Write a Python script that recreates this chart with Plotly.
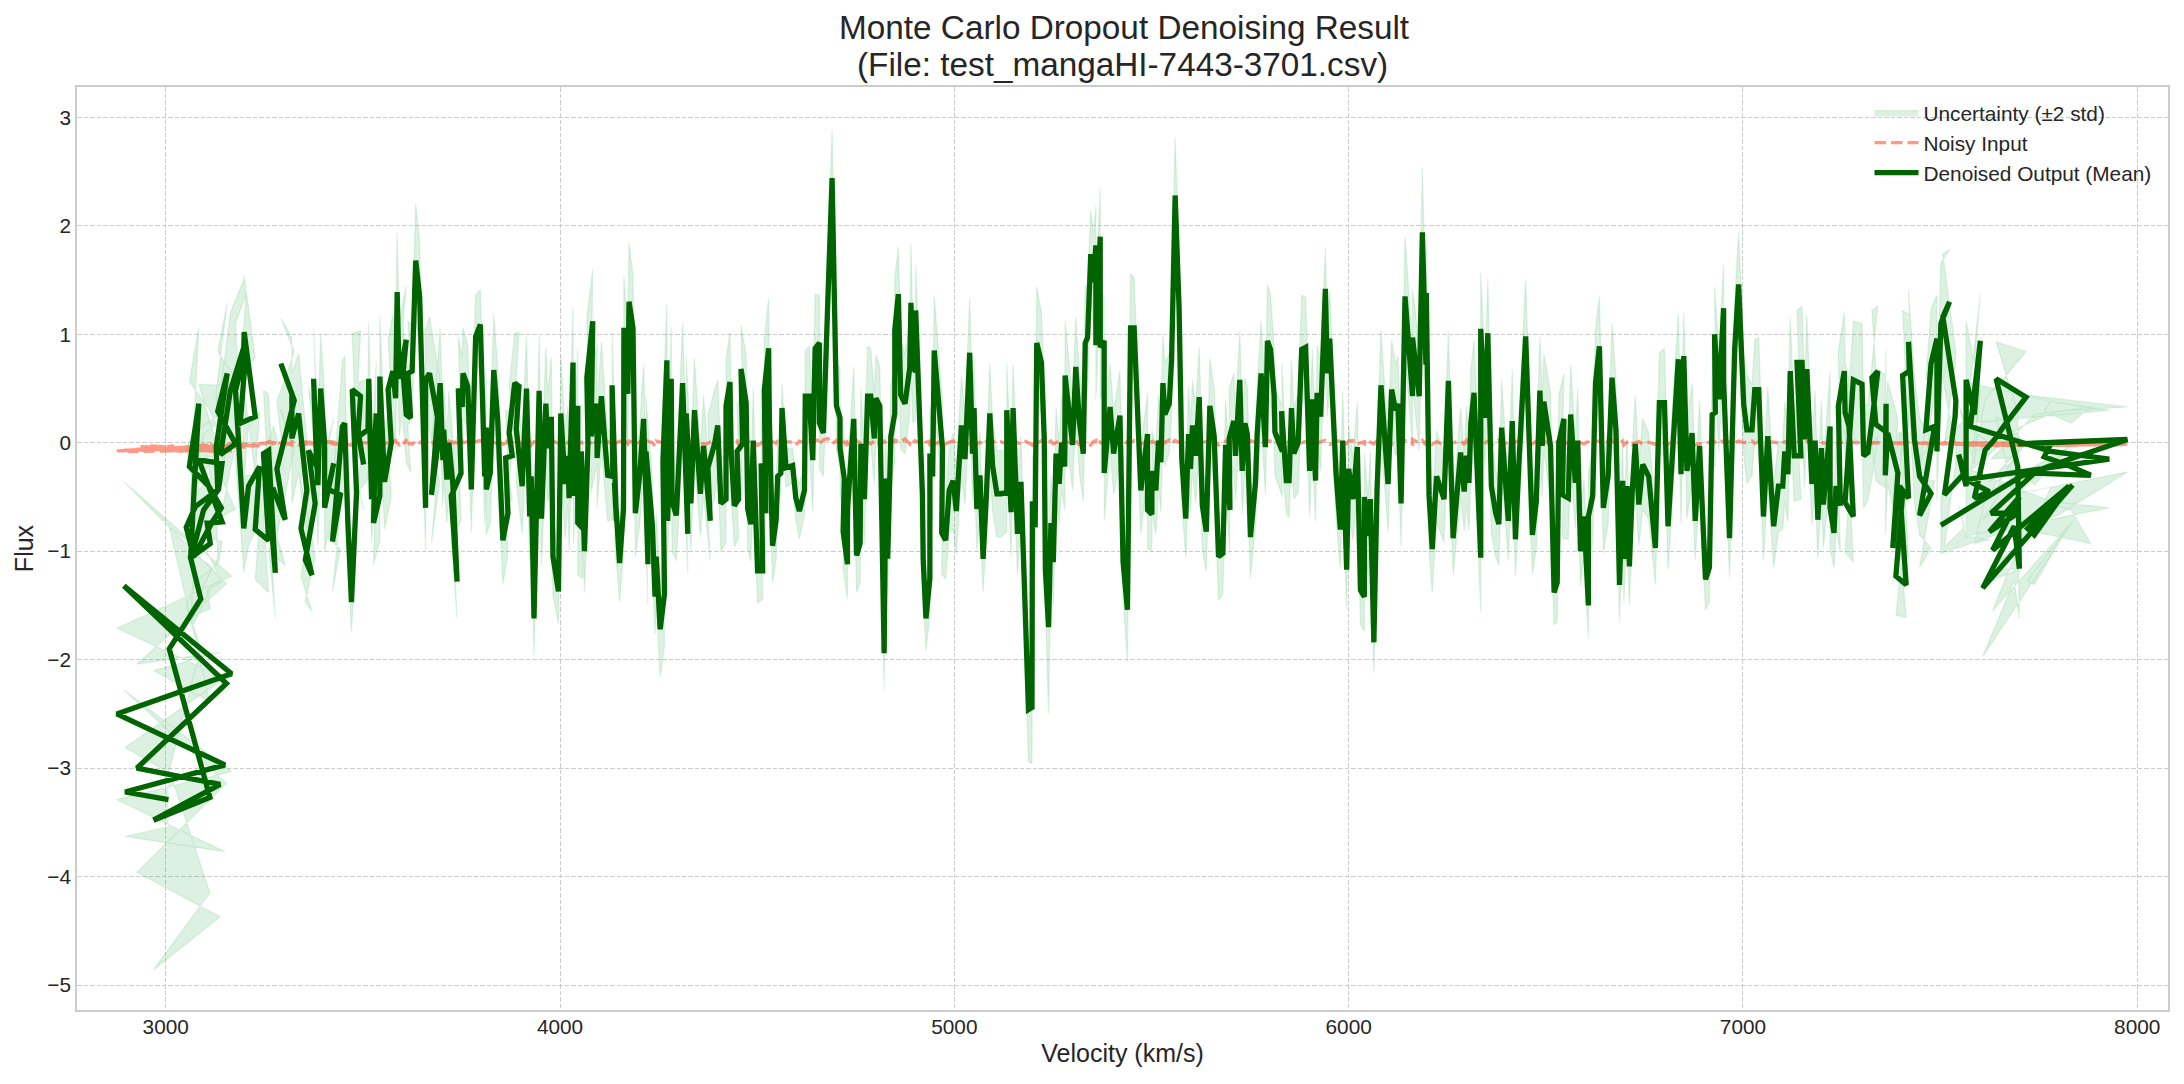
import plotly.graph_objects as go

TITLE_LINE_1 = "Monte Carlo Dropout Denoising Result"
TITLE_LINE_2 = "(File: test_mangaHI-7443-3701.csv)"
X_TICKS = [3000, 4000, 5000, 6000, 7000, 8000]
Y_TICKS = [-5, -4, -3, -2, -1, 0, 1, 2, 3]

# Low-velocity end of the spectrum
velocity_a = [3007,2897,3150,2876,3167,2894,3154,2927,3138,2969,3112,3009,3089,3063]
mean_a = [-3.29,-3.22,-2.97,-2.50,-2.13,-1.32,-2.22,-3.00,-3.15,-3.48,-3.27,-1.90,-1.44,-1.06]
band_a = [.25,.41,.80,.79,.90,.96,.92,.96,1.22,1.38,.88,1.12,.45,.55]
noisy_a = [-.05,-.07,-.04,-.075,-.04,-.07,-.04,-.06,-.04,-.055,-.045,-.05,-.04,-.05]

velocity_b = [3113,3105,3143,3084,3143,3134,3075,3052,3071,3118,
3141,3109,3060,3084,3071,3063,3096,3132,3128,3156,
3132,3177,3139,3164,3198,3199,3227,3189,3204,3177,
3198,3210,3238,3227,3261,3248,3261,3278,3261,3274,
3303,3282,3326,3292,3320,3320,3337,3358,3343,3371,
3354,3379,3362,3383,3375,3386]
mean_b = [-.93,-.74,-.73,-.16,-.19,-.43,-.59,-.78,-1.05,-.73,
-.60,-.40,-.22,.36,-.50,-1.08,-.62,-.44,-.04,.64,
.29,-.01,-.11,.48,.88,1.02,.24,.18,.87,.48,
-.79,-.40,-.22,-.80,-.90,-.10,-.07,-1.20,-.47,-.44,
-.71,-.24,.39,.73,.45,.04,.27,-.44,-.79,-1.22,
-1.08,-.56,-.07,-.22,.59,-.39]
band_b = [.60,.62,.55,.70,.72,.68,.70,.74,.62,.58,
.66,.72,.78,.70,.64,.60,.70,.62,.52,.65,
.55,.60,.58,.72,.62,.52,.54,.48,.50,.62,
.40,.55,.50,.46,.48,.58,.52,.42,.50,.60,
.42,.62,.45,.42,.52,.60,.55,.46,.44,.34,
.38,.50,.58,.44,.46,.55]
noisy_b = [-.06,-.02,-.03,-.07,-.02,-.06,-.045,-.07,-.02,-.06,
-.03,-.07,-.05,-.02,-.07,-.05,-.02,-.06,-.03,-.05,
-.02,-.04,-.05,-.01,-.04,-.015,-.03,-.02,-.01,-.04,
-.02,-.01,-.03,-.01,0,-.02,.01,-.02,.01,0,
-.02,.005,-.02,.01,-.02,.01,-.02,.01,-.025,.0,
.01,-.02,.01,-.015,.01,-.015]

velocity_c = [3393,3403,3403,3426,3412,3443,3423,3448,3454,3462,
3471,3484,3473,3494,3488,3502,3490,3513,3515,3522,
3534,3527,3543,3543,3555,3572,3564,3576,3583,3587,
3592,3610,3602,3610,3621,3614,3625,3634,3644,3659,
3659,3669,3695,3674,3696,3703,3705,3713,3718,3728,
3739,3724,3749,3742,3752,3754,3766,3775,3786,3798,
3809,3813,3813,3823,3832,3842]
mean_c = [.50,0,-.60,-.19,-.43,-.48,-.91,.15,.18,-.74,
-1.47,-.46,.49,.43,.09,-.20,.06,.12,.59,-.52,
.27,-.74,-.49,.61,-.36,0,.49,.66,.41,1.39,
.59,.95,.64,.26,.23,.64,.66,1.68,1.35,-.60,
.58,.64,.12,-.48,.55,-.16,.12,-.34,0,-.37,
-1.28,-.49,-.28,.50,.33,.64,.52,-.43,.98,1.09,
-.31,.14,-.43,-.28,.67,.21]
band_c = [.50,.45,.40,.42,.45,.50,.46,.60,.62,.35,
.28,.44,.52,.60,.48,.42,.50,.46,.52,.40,
.48,.38,.42,.55,.44,.50,.46,.52,.48,.55,
.52,.50,.46,.44,.50,.48,.42,.52,.50,.40,
.46,.52,.48,.44,.50,.42,.46,.40,.48,.42,
.34,.40,.44,.48,.46,.42,.38,.40,.38,.32,
.44,.50,.42,.46,.52,.48]
noisy_c = [.005,-.01,.01,.005,-.01,-.015,0,-.02,0,-.01,
-.025,-.01,0,.005,-.01,.005,-.005,0,-.005,.005,
0,-.01,.005,-.01,-.005,0,.01,.005,.02,0,
-.02,.01,-.01,.02,-.02,0,-.015,.02,0,.03,
.01,-.01,.005,0,.015,-.01,.01,-.005,.015,0,
-.005,.01,-.01,.005,.015,0,.01,-.005,.01,.02,
0,-.01,.01,0,.005,-.01]

velocity_d = [3847,3855,3868,3862,3879,3871,3885,3896,3889,3904,
3915,3923,3927,3934,3947,3953,3964,3969,3978,3982,
3996,4002,4013,4020,4023,4033,4034,4045,4045,4058,
4054,4062,4071,4068,4083,4079,4094,4094,4105,4115,
4121,4134,4132,4143,4138,4151,4161,4162,4172,4175,
4185,4191,4202,4212,4223,4218,4234,4241,4244,4254,
4265,4261,4271,4273,4282,4284,4295,4311,4324,4320,
4332,4341,4356,4364,4381,4375,4392,4400,4408,4421,
4421,4431,4434,4442,4453,4449,4463,4459,4472,4476,
4484,4490,4501,4514,4510,4522,4518,4529,4531,4539,
4548,4552,4560,4563,4573,4590,4598,4607,4620,4622,
4632,4641,4647,4658,4658,4668,4679,4690,4701,4710,
4710,4721,4718,4729,4729,4745,4752,4761,4763,4772,
4780,4788,4797,4801,4811,4822,4826,4831,4839,4849,
4849,4858,4864,4875,4887,4890,4894,4902,4902,4919,
4921,4928,4938,4938,4945,4949,4970,4968,4978,4987,
4997,5005,5018,5027,5039,5046,5050,5057,5065,5073,
5081,5090,5097,5108]
mean_d = [-.23,-.90,-.65,-.14,-.12,.09,.55,.52,.13,-.40,
.50,-.68,-.31,-1.62,.48,-.70,.36,-.05,.24,-1.05,
-1.37,.27,-.38,-.12,-.51,.74,-.49,.34,-.74,-.79,
-.08,-1.00,-.01,.60,1.12,.06,.36,-.14,.43,-.05,
-.30,-.31,.53,-.72,-.37,-1.11,-.61,1.06,.45,1.30,
1.06,-.65,-.30,.22,-1.12,-.08,-.75,-1.42,-1.05,-1.72,
-1.39,-.17,.76,-.72,.59,-.54,-.67,.55,-.84,.27,
-.56,.30,-.47,-.03,-.72,-.23,-.01,.16,-.56,-.52,
.34,.56,-.08,-.58,-.52,-.08,-.01,.68,.37,-.61,
-.75,.02,-1.18,-1.18,-.19,-.65,.48,.87,.20,-.95,
-.72,-.31,-.28,.32,-.23,-.21,-.51,-.63,-.44,.43,
.43,-.16,.87,.92,.18,.09,1.29,2.44,.34,.23,
-.05,-.33,-.82,-1.12,-.61,.22,-1.04,-.93,-.01,-.52,
.43,.43,.04,.41,.34,-1.94,-.33,-1.07,.06,.27,
1.04,1.37,.44,.36,.69,1.29,.69,.66,1.22,-.47,
-1.07,-1.62,-1.25,-.10,-.31,.85,-.05,-.83,-.90,-.44,
-.35,-.63,.16,-.15,.83,-.10,.32,-.61,-.30,-1.07,
-.51,.27,-.21,-.47]
band_d = [.42,.40,.38,.44,.40,.44,.46,.50,.48,.44,
.48,.42,.40,.35,.50,.44,.52,.50,.55,.36,
.30,.55,.50,.46,.48,.50,.44,.52,.48,.46,
.44,.38,.50,.55,.48,.52,.55,.46,.50,.44,
.42,.40,.48,.44,.46,.36,.42,.48,.50,.55,
.48,.40,.46,.50,.38,.50,.42,.35,.40,.44,
.48,.50,.52,.40,.48,.46,.42,.55,.36,.52,
.44,.48,.40,.46,.36,.48,.50,.42,.44,.40,
.42,.46,.44,.38,.36,.44,.46,.40,.44,.38,
.34,.48,.30,.26,.46,.40,.48,.46,.50,.34,
.36,.30,.18,.22,.18,.16,.20,.26,.22,.42,
.46,.48,.50,.44,.42,.40,.50,.44,.40,.46,
.42,.38,.34,.32,.38,.48,.34,.36,.50,.42,
.46,.44,.42,.40,.36,.35,.40,.34,.48,.44,
.48,.44,.50,.46,.42,.55,.50,.46,.42,.40,
.32,.30,.34,.44,.42,.50,.44,.38,.36,.40,
.44,.40,.46,.42,.50,.44,.46,.38,.40,.30,
.38,.46,.42,.40]
noisy_d = [.01,-.015,.005,.02,-.01,.015,-.005,.01,.02,-.01,
0,.015,-.02,.01,.005,-.015,.02,-.01,0,.015,
-.005,.01,-.02,.005,.015,-.01,.02,0,-.015,.01,
-.01,.02,.005,-.02,.01,.015,-.005,.02,0,-.015,
.01,-.01,.02,.005,-.015,.015,0,.02,-.01,.015,
.005,-.02,.01,.025,-.01,.02,0,-.03,.015,.005,
-.01,.02,0,.015,-.02,.01,.005,.025,-.015,0,
.02,-.01,.015,-.02,.005,.01,-.015,.02,0,-.01,
.015,.005,-.02,.01,.02,-.01,0,.025,-.015,.01,
.02,0,-.025,.01,-.03,.015,.005,.02,-.02,.01,
-.005,.015,.02,-.01,.01,.005,-.02,.015,0,-.01,
.02,0,.015,.03,-.005,.025,.04,-.01,.02,-.015,
-.02,0,.015,-.025,.01,-.01,.02,0,-.015,.02,
.01,-.01,.02,.005,-.02,.015,0,-.015,.02,.01,
.03,.005,.01,.035,-.01,.02,.03,0,.015,-.01,
-.02,.005,.015,-.03,.01,-.015,.02,0,-.01,.005,
.015,-.01,.02,0,-.015,.01,.02,-.01,.005,-.02,
.01,-.005,.015,0]

velocity_e = [5118,5133,5133,5144,5149,5155,5160,5169,5177,5188,
5197,5198,5205,5209,5221,5228,5231,5239,5245,5251,
5258,5266,5272,5280,5281,5300,5308,5317,5327,5332,
5338,5346,5353,5359,5359,5370,5370,5380,5380,5395,
5404,5420,5428,5439,5447,5456,5473,5490,5490,5501,
5501,5511,5518,5524,5529,5534,5545,5551,5560,5570,
5577,5587,5594,5599,5604,5612,5621,5629,5639,5648,
5659,5670,5681,5688,5699,5697,5709,5713,5724,5730,
5737,5743,5751,5764,5768,5778,5789,5794,5802,5811,
5813,5832,5830,5842,5849,5855,5861,5872,5881,5891,
5901,5908,5916,5920,5929,5941,5946,5952,5968,5979,
5985,5995,6000,6011,6022,6030,6040,6040,6049,6055,
6064,6072,6082,6100,6109,6119,6125,6133]
mean_e = [-.47,-.46,.30,-.64,.32,-.28,-.84,-.36,-1.24,-2.46,
-2.44,-.54,-.78,.92,.74,.04,-1.18,-1.70,-.74,-1.10,
-.10,-.38,0,-.22,.62,-.02,.70,.20,-.10,.92,
.97,1.74,1.48,1.82,.90,1.90,.88,.94,-.28,.33,
-.10,.25,-1.10,-1.54,1.06,1.06,-.44,.08,-.62,-.66,
-.26,-.44,.02,-.18,.55,.26,.36,.76,2.28,1.24,
-.16,-.70,.08,-.24,.16,-.12,.42,-.58,-.82,.34,
.06,-1.05,-1.02,-.02,-.62,.04,.20,-.12,.58,-.26,
.18,.08,-.87,-.36,.08,.64,-.04,.94,.86,.44,
.10,-.08,.29,-.35,-.35,.32,-.10,0,.86,.88,
-.26,.40,-.35,.46,.24,1.42,.64,.96,-.28,-.80,
.02,-1.17,-.24,-.52,-.04,-1.36,-1.42,-.50,-.86,-.52,
-1.84,-.44,.53,-.38,.49,.30,.36,-.56]
band_e = [.40,.36,.44,.42,.40,.44,.38,.42,.36,.48,
.52,.44,.40,.52,.46,.42,.34,.80,.44,.40,
.42,.38,.44,.40,.50,.42,.46,.48,.44,.52,
.48,.40,.44,.36,.50,.44,.48,.42,.44,.40,
.38,.42,.34,.48,.50,.46,.40,.38,.36,.34,
.38,.40,.42,.46,.44,.48,.46,.50,.54,.50,
.42,.36,.44,.40,.42,.44,.46,.42,.36,.44,
.44,.40,.38,.42,.40,.46,.44,.42,.46,.40,
.42,.44,.38,.40,.42,.48,.44,.52,.50,.44,
.40,.42,.44,.30,.34,.44,.42,.46,.50,.46,
.42,.46,.38,.44,.50,.38,.40,.44,.42,.36,
.46,.36,.40,.38,.42,.32,.32,.40,.36,.44,
.28,.44,.50,.44,.46,.42,.44,.40]
noisy_e = [.01,-.01,.02,-.015,.01,.015,0,-.01,.02,0,
-.02,.01,.015,-.005,.02,.01,-.015,.005,.015,-.01,
0,.02,-.005,.015,0,.01,.02,-.015,.005,.015,
0,-.02,.01,.02,-.01,.015,.005,-.015,.01,.02,
-.005,.015,-.02,.01,0,.02,-.01,.015,-.02,.005,
.02,-.005,.01,-.015,.02,0,.025,-.01,.02,.005,
-.015,.01,0,.02,-.01,.015,-.02,.005,.01,-.015,
.02,-.02,.005,.015,-.01,0,.02,-.015,.01,.005,
.015,-.01,.02,0,-.015,.01,-.005,.02,.015,0,
-.01,.02,.005,-.015,.01,.015,-.005,.02,0,.01,
-.01,.015,.02,-.005,.01,.02,0,-.015,.01,.02,
.005,-.01,.015,.02,-.015,0,.01,-.02,.015,.005,
-.01,.02,0,.015,-.015,.01,.02,-.005]

velocity_f = [6143,6162,6162,6179,6187,6196,6197,6204,6212,6223,
6242,6253,6265,6284,6293,6299,6305,6310,6318,6335,
6335,6346,6353,6362,6373,6381,6388,6405,6415,6423,
6432,6449,6466,6476,6485,6491,6495,6512,6521,6529,
6533,6546,6542,6557,6563,6575,6581,6588,6597,6608,
6608,6619,6626,6636,6646,6658,6668,6678,6687,6695,
6698,6706,6712,6719,6727,6736,6746,6761,6778,6788,
6801,6810,6820,6836,6843,6850,6858,6871,6879,6890,
6905,6915,6922,6930,6928,6939,6951,6951,6966,6979,
6989,7002,7010,7023,7030,7040,7052,7063,7078,7090,
7101,7106,7114,7120,7130,7147,7137,7150,7156,7162,
7175,7183,7190,7199,7204,7221,7221,7231,7236,7247,
7242,7257,7259,7269,7280,7259,7280,7302,7306,7317,
7331,7342,7327,7337]
mean_f = [1.35,.43,.97,.43,1.94,.72,1.38,-.49,-.98,-.31,
-.52,.57,-.88,-.09,-.45,-.12,-.37,.18,.46,-1.06,
1.05,.23,1.01,-.40,-.65,-.75,.14,-.72,.20,-.89,
-.18,.98,-.85,-.54,.48,-.03,.38,-.03,-1.38,-1.29,
0,.22,-.48,-.51,.26,-.37,.02,-1.00,-.68,-1.50,
-.68,-.49,.55,.89,-.60,-.31,.60,.12,-1.31,-.35,
-1.07,-.40,-1.14,-.46,-.01,-.57,-.20,-.31,-.97,.37,
.37,-.77,-.18,.77,-.29,.80,-.26,.09,-.72,-.03,
-1.26,-1.15,.26,.28,1.00,.40,1.24,.57,-.88,.86,
1.46,.35,.12,.12,.49,.49,-.68,.06,-.77,-.40,
-.40,-.08,-.29,.66,-.12,-.12,.74,.74,.03,.68,
-.38,.02,-.71,-.05,-.57,.15,-.60,-.83,-.40,-.58,
.34,.66,.28,.15,-.68,-.55,.58,.54,-.12,-.09,
.31,.66,.60,.17]
band_f = [.55,.46,.44,.50,.59,.48,.44,.50,.40,.42,
.40,.46,.34,.42,.36,.46,.44,.50,.48,.50,
.52,.46,.50,.44,.40,.38,.44,.36,.48,.34,
.42,.53,.36,.44,.50,.46,.44,.50,.30,.36,
.44,.42,.40,.38,.46,.42,.48,.32,.34,.30,
.40,.44,.50,.46,.42,.44,.50,.46,.35,.42,
.40,.44,.36,.40,.44,.38,.42,.40,.34,.46,
.50,.40,.44,.42,.46,.40,.44,.46,.36,.42,
.28,.32,.46,.50,.44,.48,.40,.46,.36,.44,
.48,.46,.50,.42,.46,.48,.40,.46,.38,.42,
.40,.46,.44,.50,.42,.40,.48,.52,.44,.50,
.38,.46,.36,.44,.40,.50,.38,.32,.40,.42,
.50,.54,.46,.44,.42,.46,.54,.56,.48,.44,
.56,.60,.62,.52]
noisy_f = [.02,-.01,.03,0,.02,-.02,.01,.02,-.015,.01,
-.02,.01,0,.015,-.01,.02,-.015,.005,.01,-.01,
.02,0,.015,-.02,.01,.02,-.01,0,-.015,.01,
.02,0,-.01,.015,-.005,.01,.02,-.02,-.01,.01,
0,.015,-.02,.005,.01,-.015,.02,0,-.01,.015,
.025,0,.02,.01,-.015,.01,.02,-.01,0,.015,
-.02,.005,.01,-.015,0,.01,-.01,.005,-.015,.01,
0,-.015,.01,.005,-.02,.01,0,.005,-.02,-.01,
0,.005,.01,.015,0,.01,.015,.005,.01,0,
.015,0,.005,.015,-.005,.01,0,.01,.005,-.005,
0,.01,-.005,.005,.01,0,.015,.005,-.005,.01,
.005,-.01,0,.01,-.005,.005,0,-.01,.005,0,
-.005,.005,0,.01,-.005,0,.005,-.005,.005,0,
0,.005,-.005,0]

# High-velocity end of the spectrum
velocity_g = [7363,7363,7361,7367,7393,7380,7393,7405,7388,7414,
7397,7420,7405,7422,7420,7435,7448,7477,7448,7486,
7464,7477,7492,7492,7502,7524,7507,7540,7538,7511,
7562,7547,7566,7566,7587,7602,7577,7781,7929,7566,
7625,7587,7614,7638,7663,7718,7642,7697,7701,7688,
7608,7836,7722,7739,7827,7633,7701,7625,7697,7629,
7739,7882,7832,7764,7781,7697,7975,7798,7705,7502]
mean_g = [.10,.36,-.30,.09,-.28,-.97,-.40,-.47,-1.23,-1.31,
-.40,-.51,.62,.66,.93,.03,-.31,-.47,-.67,.15,
.12,.73,.96,-.08,1.10,1.30,1.16,.39,.24,-.48,
-.28,-.11,-.40,.58,.26,.94,.15,-.08,-.15,-.34,
-.45,-.51,-.07,.03,.16,.42,.59,-.22,-1.16,-.77,
-1.34,-.39,-.79,-.85,-.40,-.99,-.50,-.82,-.65,-.65,
-.28,-.30,-.22,-.13,-.01,-.01,.03,-.19,-.31,-.76]
band_g = [.52,.50,.54,.48,.50,.34,.50,.52,.36,.30,
.50,.56,.60,.52,.48,.58,.54,.50,.48,.50,
.46,.50,.40,.46,.56,.48,.58,.44,.46,.48,
.50,.46,.48,.54,.46,.44,.40,.46,.45,.52,
.44,.42,.46,.48,.44,.42,.34,.50,.46,.50,
.63,.34,.48,.46,.36,.56,.44,.46,.52,.50,
.54,.63,.40,.42,.40,.46,.30,.48,.46,.26]
noisy_g = [0,.005,-.005,0,-.005,0,-.01,0,-.005,.005,
-.01,0,-.005,.005,-.01,0,-.005,-.01,0,-.005,
-.01,0,-.01,.005,-.01,-.005,0,-.01,0,-.01,
-.005,-.01,0,-.01,-.005,-.01,-.005,-.015,-.02,-.01,
-.01,-.005,-.01,-.005,-.01,-.015,-.01,-.015,-.01,-.01,
-.005,-.02,-.015,-.015,-.02,-.005,-.01,-.005,-.015,-.005,
-.015,-.02,-.02,-.015,-.015,-.01,-.01,-.015,-.01,-.005]

# Extra noisy-input samples where that curve doubles back on itself at both ends
noisy_head_velocity = [2882,3020,2905,3085,2935,3130,2960,3170,2990,3110,3030,3190,3060,3150]
noisy_head_flux = [-.075,-.03,-.08,-.07,-.035,-.08,-.03,-.075,-.07,-.02,-.08,-.03,-.075,-.02]
noisy_tail_velocity = [7975,7540,7960,7580,7940,7610,7900,7640,7870,7560,7840,7680,7810,7600,7780,7520,
                       7750,7660,7970,7700,7920,7730,7850,7500,7960,7620,7975]
noisy_tail_flux = [.0,-.015,-.02,.0,-.02,-.01,-.005,-.025,-.01,-.02,-.025,.0,-.015,-.025,-.005,-.01,
                   -.025,-.005,-.015,-.025,-.005,-.02,-.025,-.005,-.02,-.01,.0]

velocity = velocity_a + velocity_b + velocity_c + velocity_d + velocity_e + velocity_f + velocity_g
mean_flux = mean_a + mean_b + mean_c + mean_d + mean_e + mean_f + mean_g
band = band_a + band_b + band_c + band_d + band_e + band_f + band_g
noisy = noisy_a + noisy_b + noisy_c + noisy_d + noisy_e + noisy_f + noisy_g
noisy_x = noisy_head_velocity + velocity + noisy_tail_velocity
noisy_y = noisy_head_flux + noisy + noisy_tail_flux

upper = [m + b for m, b in zip(mean_flux, band)]
lower = [m - b for m, b in zip(mean_flux, band)]

fig = go.Figure()
fig.add_trace(go.Scatter(
    x=velocity + velocity[::-1], y=upper + lower[::-1], mode="lines", fill="toself",
    fillcolor="rgba(60,179,90,0.18)", line=dict(color="rgba(60,179,90,0.14)", width=1.3, simplify=False),
    name="Uncertainty (±2 std)", hoverinfo="skip"))
fig.add_trace(go.Scatter(
    x=noisy_x, y=noisy_y, mode="lines", name="Noisy Input",
    line=dict(color="rgba(255,99,71,0.65)", width=3.4, dash="11.5px,5px", simplify=False)))
fig.add_trace(go.Scatter(
    x=velocity, y=mean_flux, mode="lines", name="Denoised Output (Mean)",
    line=dict(color="#006400", width=5.3, simplify=False)))

axis_common = dict(
    showgrid=True, gridcolor="#cccccc", gridwidth=1, griddash="4.5px,2px",
    zeroline=False, showline=True, linecolor="#cccccc", linewidth=1.7, mirror=True,
    ticks="", tickfont=dict(size=20.8, color="#262626"),
)
fig.update_layout(
    width=2168, height=1068,
    margin=dict(l=69, r=6, t=79, b=66),
    paper_bgcolor="white", plot_bgcolor="white",
    font=dict(family="Liberation Sans", color="#262626"),
    title=dict(text=TITLE_LINE_1, x=0.5148, xanchor="center", y=0.982, yanchor="middle",
               font=dict(size=33.3, color="#262626")),
    annotations=[dict(text=TITLE_LINE_2, xref="paper", yref="paper", x=0.5002, y=1.0249,
                      xanchor="center", yanchor="middle", showarrow=False,
                      font=dict(size=33.3, color="#262626"))],
    xaxis=dict(axis_common, range=[2775, 8078], tickvals=X_TICKS, ticklabelstandoff=-3,
               title=dict(text="Velocity (km/s)", font=dict(size=25, color="#262626"), standoff=8)),
    yaxis=dict(axis_common, range=[-5.23, 3.28], tickvals=Y_TICKS,
               title=dict(text="Flux", font=dict(size=25, color="#262626"), standoff=7)),
    legend=dict(x=0.9945, xanchor="right", y=0.994, yanchor="top", bgcolor="rgba(0,0,0,0)",
                font=dict(size=20.8, color="#262626"), itemwidth=44, traceorder="normal"),
    showlegend=True,
)
fig.write_html("out.html")
